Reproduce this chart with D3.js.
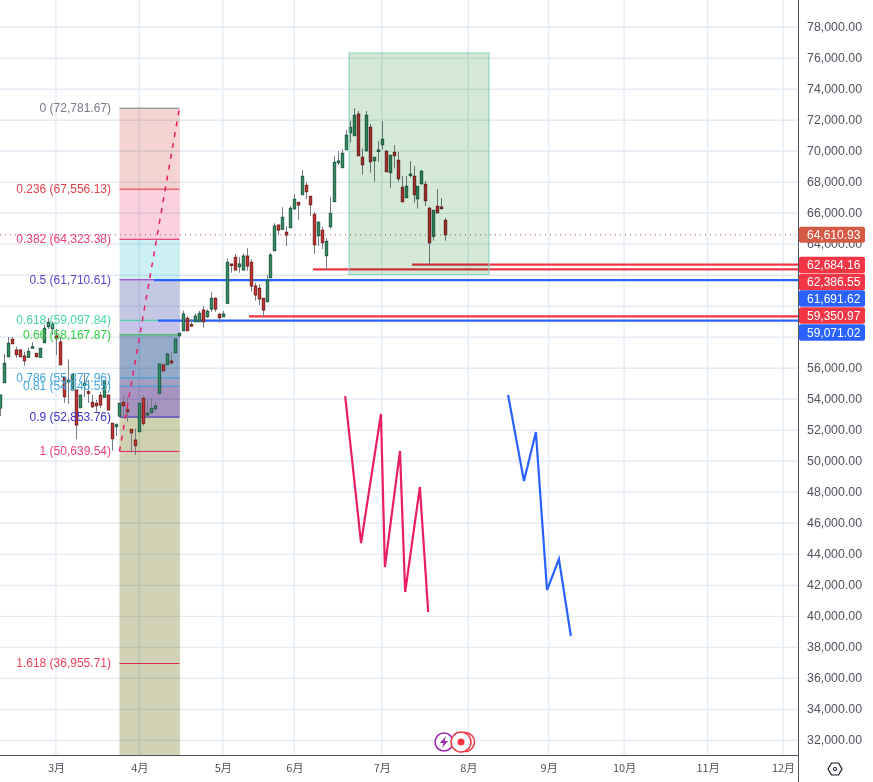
<!DOCTYPE html>
<html lang="zh">
<head>
    <meta charset="UTF-8">
    <script src="https://d3js.org/d3.v7.min.js"></script>
    <title>BTC chart</title>
    <style>
        body { margin: 0; background: #fff; }
        text { font-family: "Liberation Sans", Arial, sans-serif; font-size: 12px; }
        .domain { display: none; }
    </style>
</head>
<body>
    <div class="chart"></div>
    <script>
        // candles, one entry per bar
        const opens = [53438,55071,56748,57871,57180,57180,56793,56709,57340,56967,56709,57651,58683,58554,58083,57696,55419,55161,54600,54600,53458,54903,54490,53806,53741,54258,54129,54277,52451,52232,52922,53806,53354,52064,51374,51909,54064,52987,53135,53393,54387,56212,56232,56471,57006,58103,58425,59225,58825,59006,59006,59761,59329,59825,60516,59483,59329,60193,62729,63161,62554,62341,63245,62838,61309,61161,60516,60296,61845,63587,65245,64967,64774,65071,66296,66709,67200,67806,67096,65935,64554,64903,63264,65135,66748,69264,68941,70103,71200,71006,72406,69612,70038,71548,69393,70038,70425,70000,68619,69935,69419,67677,67006,68490,68387,66941,67909,67871,66322,64516,66451,66406,65548];
        const highs = [54277,56922,58019,58019,57393,57245,57071,57329,57696,56987,57309,58793,59245,59006,58535,58019,55439,56580,55632,54600,54277,55677,55245,54277,53955,54490,55200,54277,52451,52451,53741,54277,54129,52064,52129,53741,54277,53909,54064,53845,56277,56322,57006,57071,57890,58296,59716,59374,59161,59548,59716,60019,59806,60903,60580,59548,59696,63096,62729,63374,63161,63419,63741,63032,61522,61438,60516,62019,63458,65354,65245,66387,65180,66471,67245,66709,68793,68019,67096,66083,65503,65135,64387,67032,69696,70019,70129,71374,71974,72774,72600,70193,72600,71761,69612,70664,71954,70084,69741,70406,69954,68406,68406,69374,69051,67741,68793,68083,66425,66193,67567,66987,65716];
        const lows = [52922,55071,56729,57587,56683,56748,56167,56709,57340,56683,56683,57651,58535,58148,56858,56232,53780,53696,54600,51419,53458,54148,53761,53438,53200,53419,54129,53309,50683,51632,52838,52877,52554,50580,50406,51909,52277,52774,53135,53200,54387,55780,56232,56212,57006,58000,58425,58425,58683,59006,59006,58619,59245,59651,59651,58941,59329,60193,62167,62341,62167,62341,62296,60941,60361,60083,59290,60296,61845,63587,64600,64967,63890,65071,66212,65567,67200,66922,65825,63374,63890,63696,62341,65032,66748,69116,68941,70103,70554,71006,69716,68490,69974,68619,68038,69329,70129,68683,67651,68903,68038,66748,67006,68296,66683,66296,67845,66471,62729,64232,66000,66212,64232];
        const closes = [54277,56322,57612,57587,56877,56748,56490,57096,57393,56748,57290,58580,58967,58858,57909,56232,54167,55225,55612,52341,54277,55032,54387,53522,53587,53632,55200,53309,51458,52361,53741,53587,53200,51845,51006,53741,52451,53096,53419,53567,56277,55845,56922,56361,57890,58258,59503,58425,58761,59374,59548,59006,59677,60516,59825,59264,59503,62838,62664,62341,62729,63245,62600,61309,60729,60471,59761,61696,63309,65180,64922,65741,64600,66322,66903,66535,68387,67393,66554,63974,65419,64103,64193,66000,69290,69374,69870,71032,71548,72322,69716,69135,72322,69329,69612,70084,70774,68683,69741,69716,68232,66748,67741,68535,67200,67741,68709,66812,64103,66193,66038,66361,64610.93];

        // month labels sit on these bar numbers
        const monthBars = [14, 35, 56, 74, 96, 117.8, 138, 157, 178, 197];
        const monthNames = ["3月", "4月", "5月", "6月", "7月", "8月", "9月", "10月", "11月", "12月"];

        // price axis ticks, and the ones that are covered by the price tags
        const priceTicks = [78000,76000,74000,72000,70000,68000,66000,64000,62000,60000,58000,56000,54000,52000,50000,48000,46000,44000,42000,40000,38000,36000,34000,32000];
        const coveredTicks = [62000, 60000, 58000];

        // fib retracement
        const fibRatios = [0, 0.236, 0.382, 0.5, 0.618, 0.66, 0.786, 0.81, 0.9, 1, 1.618];
        const fibPrices = [72781.67, 67556.13, 64323.38, 61710.61, 59097.84, 58167.87, 55377.96, 54846.55, 52853.76, 50639.54, 36955.71];
        const fibBars = [30, 45.2];
        const fibTrendPrices = [50639.54, 72781.67];

        // long/short style box
        const boxBars = [87.8, 123];
        const boxPrices = [76342, 62052];

        // horizontal rays: start bar, price
        const rayBars = [78.7, 103.6, 38.7, 62.6, 39.7];
        const rayPrices = [62386.55, 62684.16, 61691.62, 59350.97, 59071.02];
        const rayKinds = ["red", "red", "blue", "red", "blue"];

        // copied zigzag patterns
        const redPathBars = [86.8, 90.8, 95.8, 96.8, 100.6, 101.9, 105.6, 107.7];
        const redPathPrices = [54213, 44729, 53052, 43181, 50665, 41568, 48342, 40277];
        const bluePathBars = [127.8, 131.8, 134.8, 137.6, 140.6, 143.6];
        const bluePathPrices = [54277, 48729, 51890, 41697, 43697, 38729];

        // labels on the price axis
        const lastPrice = 64610.93;
        const tagPrices = [62684.16, 62386.55, 61691.62, 59350.97, 59071.02];
        const tagKinds = ["red", "red", "blue", "red", "blue"];

        const width = 873, height = 782;
        const plotW = 798, plotH = 755;

        const red = "#f23645", blue = "#2962ff";
        const gridColor = "#e3ecf4";
        const fibColors = ["#787b86", "#e5343c", "#e91e63", "#8e24c8", "#2ed39a", "#2fc43f", "#2f9fdc", "#2f9fdc", "#2a22b8", "#e91e63", "#d8274f"];
        const fibTextColors = ["#787b86", "#e0434a", "#ee3f78", "#5d46c9", "#45d6a4", "#2fd13f", "#43a5dc", "#43a5dc", "#3d33cf", "#ee3f78", "#ee3f5c"];
        const fibFills = ["#f3d4d0", "#fbd1df", "#ccf1f4", "#c5c8e3", "#c6c3ea", "#94acca", "#a3a0bf", "#a793c0", "#cfd1b0", "#d1d3b4"];

        const svg = d3.select(".chart").append("svg")
            .attr("width", width)
            .attr("height", height)
            .style("display", "block");

        const x = d3.scaleLinear().domain([0, 112]).range([0.3, 445.3]);
        const y = d3.scaleLinear().domain([79761, 31054]).range([0, plotH]);
        const px = v => Math.round(x(v)) + 0.5;

        // grid
        svg.append("g").selectAll("line").data(priceTicks).enter().append("line")
            .attr("x1", 0).attr("x2", plotW)
            .attr("y1", d => y(d)).attr("y2", d => y(d))
            .attr("stroke", gridColor)
            .attr("stroke-width", 1.4);
        svg.append("g").selectAll("line").data(monthBars).enter().append("line")
            .attr("x1", d => x(d)).attr("x2", d => x(d))
            .attr("y1", 0).attr("y2", plotH)
            .attr("stroke", gridColor)
            .attr("stroke-width", 1.4);

        // fib bands, the grid shows through
        const bandEdges = fibPrices.slice(0, 10).concat([y.domain()[1]]);
        svg.append("g").selectAll("rect").data(fibFills).enter().append("rect")
            .attr("x", x(fibBars[0]))
            .attr("width", x(fibBars[1]) - x(fibBars[0]))
            .attr("y", (d, i) => y(bandEdges[i]))
            .attr("height", (d, i) => y(bandEdges[i + 1]) - y(bandEdges[i]))
            .attr("fill", d => d)
            .style("mix-blend-mode", "multiply");

        svg.append("g").selectAll("line").data(fibPrices).enter().append("line")
            .attr("x1", x(fibBars[0])).attr("x2", x(fibBars[1]) - 0.5)
            .attr("y1", d => y(d)).attr("y2", d => y(d))
            .attr("stroke", (d, i) => fibColors[i]);

        // rays
        svg.append("g").selectAll("line").data(rayPrices).enter().append("line")
            .attr("x1", (d, i) => x(rayBars[i])).attr("x2", plotW)
            .attr("y1", d => y(d)).attr("y2", d => y(d))
            .attr("stroke", (d, i) => rayKinds[i] == "red" ? red : blue)
            .attr("stroke-width", 2.2);

        // last price line
        svg.append("line")
            .attr("x1", 0).attr("x2", plotW)
            .attr("y1", y(lastPrice)).attr("y2", y(lastPrice))
            .attr("stroke", "#a8564c")
            .attr("stroke-dasharray", "1 4");

        // candles
        const candles = svg.append("g").selectAll("g").data(opens).enter().append("g");
        candles.append("line")
            .attr("x1", (d, i) => px(i)).attr("x2", (d, i) => px(i))
            .attr("y1", (d, i) => y(highs[i])).attr("y2", (d, i) => y(lows[i]))
            .attr("stroke", "#787b86");
        candles.append("rect")
            .attr("x", (d, i) => px(i) - 1.2)
            .attr("width", 2.4)
            .attr("y", (d, i) => y(Math.max(d, closes[i])))
            .attr("height", (d, i) => Math.max(1.5, Math.abs(y(d) - y(closes[i]))))
            .attr("fill", (d, i) => closes[i] >= d ? "#2f8f62" : "#cf2f2b")
            .attr("stroke", (d, i) => closes[i] >= d ? "#1f5a41" : "#74201c");

        // green box goes over the candles
        svg.append("rect")
            .attr("x", x(boxBars[0]))
            .attr("width", x(boxBars[1]) - x(boxBars[0]))
            .attr("y", y(boxPrices[0]))
            .attr("height", y(boxPrices[1]) - y(boxPrices[0]))
            .attr("fill", "#d4ead6")
            .style("mix-blend-mode", "multiply");
        svg.append("rect")
            .attr("x", x(boxBars[0]))
            .attr("width", x(boxBars[1]) - x(boxBars[0]))
            .attr("y", y(boxPrices[0]))
            .attr("height", y(boxPrices[1]) - y(boxPrices[0]))
            .attr("fill", "none")
            .attr("stroke", "#7fd0bd");

        // fib trend line
        svg.append("line")
            .attr("x1", x(fibBars[0])).attr("x2", x(fibBars[1]) - 0.5)
            .attr("y1", y(fibTrendPrices[0])).attr("y2", y(fibTrendPrices[1]))
            .attr("stroke", "#e91e63")
            .attr("stroke-width", 1.5)
            .attr("stroke-dasharray", "5 6");

        // fib labels
        svg.append("g").selectAll("text").data(fibPrices).enter().append("text")
            .attr("x", x(fibBars[0]) - 8.5)
            .attr("y", d => y(d))
            .attr("dy", "0.32em")
            .attr("text-anchor", "end")
            .attr("fill", (d, i) => fibTextColors[i])
            .text((d, i) => fibRatios[i] + " (" + d3.format(",.2f")(d) + ")");

        // zigzags
        const zigzag = d3.line().x(d => x(d[0])).y(d => y(d[1]));
        svg.append("path")
            .attr("d", zigzag(d3.zip(redPathBars, redPathPrices)))
            .attr("fill", "none").attr("stroke", "#e91e63").attr("stroke-width", 2.2);
        svg.append("path")
            .attr("d", zigzag(d3.zip(bluePathBars, bluePathPrices)))
            .attr("fill", "none").attr("stroke", blue).attr("stroke-width", 2.2);

        // little session icons
        const icons = svg.append("g").attr("transform", "translate(444,742)");
        icons.append("circle").attr("r", 9).attr("fill", "#fff").attr("stroke", "#9c27b0").attr("stroke-width", 1.5);
        icons.append("path").attr("d", "M2,-6 L-4,1 L-0.5,1 L-2,6 L4,-1 L0.5,-1 Z").attr("fill", "#9c27b0");
        icons.append("circle").attr("cx", 21).attr("r", 9.5).attr("fill", "#fff").attr("stroke", red).attr("stroke-width", 1.5);
        icons.append("circle").attr("cx", 17).attr("r", 10).attr("fill", "#fff").attr("stroke", red).attr("stroke-width", 1.5);
        icons.append("circle").attr("cx", 17).attr("r", 3.5).attr("fill", red);

        // axes
        const yAxis = d3.axisRight(y)
            .tickValues(priceTicks.filter(d => !coveredTicks.includes(d)))
            .tickSize(0)
            .tickPadding(9)
            .tickFormat(d3.format(",.2f"));
        const yg = svg.append("g").attr("transform", "translate(" + plotW + ",-1.2)").call(yAxis);
        yg.selectAll("text").attr("fill", "#50535e").style("font-size", "12.4px");

        const xAxis = d3.axisBottom(x)
            .tickValues(monthBars)
            .tickSize(0)
            .tickPadding(9)
            .tickFormat((d, i) => monthNames[i]);
        const xg = svg.append("g").attr("transform", "translate(0," + plotH + ")").call(xAxis);
        xg.selectAll("text")
            .attr("fill", "#50535e")
            .style("font-family", '"Noto Sans CJK SC", sans-serif')
            .style("font-size", "11px");

        svg.append("line").attr("x1", 0).attr("x2", plotW + 0.5).attr("y1", plotH + 0.5).attr("y2", plotH + 0.5).attr("stroke", "#50535e");
        svg.append("line").attr("x1", plotW + 0.5).attr("x2", plotW + 0.5).attr("y1", 0).attr("y2", height).attr("stroke", "#50535e");

        // price tags, pushed apart so they do not overlap
        const tagH = 16.5;
        const tagCenters = [265, 282, 298.5, 315.5, 332.5];
        const tags = svg.append("g");
        tags.append("rect").attr("x", 799).attr("width", 66).attr("y", y(lastPrice) - 8).attr("height", 16).attr("rx", 2).attr("fill", "#d45a45");
        tags.append("text").attr("x", 807).attr("y", y(lastPrice)).attr("dy", "0.34em").attr("fill", "#fff").text(d3.format(",.2f")(lastPrice));
        tagPrices.forEach((p, i) => {
            tags.append("rect").attr("x", 799).attr("width", 66).attr("y", tagCenters[i] - tagH / 2).attr("height", tagH).attr("rx", 2)
                .attr("fill", tagKinds[i] == "red" ? red : blue);
            tags.append("text").attr("x", 807).attr("y", tagCenters[i]).attr("dy", "0.34em").attr("fill", "#fff").text(d3.format(",.2f")(p));
        });

        // settings gear
        const gear = svg.append("g").attr("transform", "translate(835,769)");
        gear.append("path").attr("d", "M-3.5,-6 L3.5,-6 L7,0 L3.5,6 L-3.5,6 L-7,0 Z").attr("fill", "none").attr("stroke", "#131722").attr("stroke-width", 1.2);
        gear.append("circle").attr("r", 1.6).attr("fill", "none").attr("stroke", "#131722");
    </script>
</body>
</html>
